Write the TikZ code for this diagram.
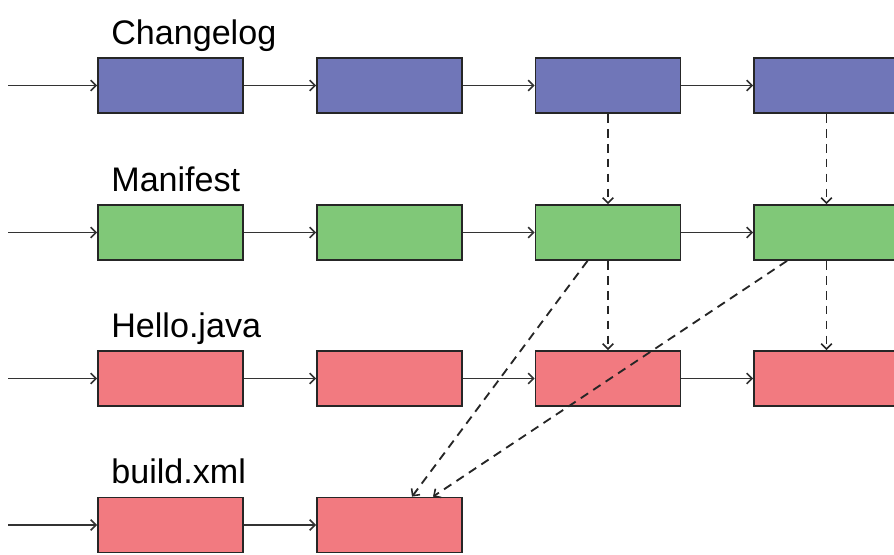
\documentclass[tikz,border=0pt]{standalone}
\usepackage{fontspec}
\setmainfont{Liberation Sans}
\usetikzlibrary{arrows.meta}
\definecolor{logblue}{RGB}{112,118,184}
\definecolor{mangreen}{RGB}{128,200,120}
\definecolor{filered}{RGB}{242,122,128}

\begin{document}
\begin{tikzpicture}[
    >={Straight Barb[length=3pt,width=6pt,line width=0.9pt]},
    rev/.style={draw=black!85,line width=1pt,minimum width=2.9cm,minimum height=1.1cm,inner sep=0pt},
    title/.style={anchor=base west,inner sep=0pt,font=\fontsize{19.4}{23}\selectfont},
    link/.style={->,line width=0.9pt,black!80},
    dep/.style={->,line width=1.05pt,black!85,dash pattern=on 5pt off 3.5pt}]
            \useasboundingbox (0,0) rectangle (17.88,11.08);
            % rows of revisions
            \node[title] (tlog) at (2.22,10.18) {Changelog};
            \node[title] (tman) at (2.22,7.24) {Manifest};
            \node[title] (thel) at (2.22,4.34) {Hello.java};
            \node[title] (tbld) at (2.22,1.42) {build.xml};
            \coordinate (in1) at (0.16,9.37);
            \coordinate (in2) at (0.16,6.43);
            \coordinate (in3) at (0.16,3.51);
            \coordinate (in4) at (0.16,0.58);
            \node[rev,fill=logblue] (c1) at (3.41,9.37) {};
            \node[rev,fill=logblue] (c2) at (7.79,9.37) {};
            \node[rev,fill=logblue] (c3) at (12.16,9.37) {};
            \node[rev,fill=logblue] (c4) at (16.53,9.37) {};
            \node[rev,fill=mangreen] (m1) at (3.41,6.43) {};
            \node[rev,fill=mangreen] (m2) at (7.79,6.43) {};
            \node[rev,fill=mangreen] (m3) at (12.16,6.43) {};
            \node[rev,fill=mangreen] (m4) at (16.53,6.43) {};
            \node[rev,fill=filered] (h1) at (3.41,3.51) {};
            \node[rev,fill=filered] (h2) at (7.79,3.51) {};
            \node[rev,fill=filered] (h3) at (12.16,3.51) {};
            \node[rev,fill=filered] (h4) at (16.53,3.51) {};
            \node[rev,fill=filered] (b1) at (3.41,0.58) {};
            \node[rev,fill=filered] (b2) at (7.79,0.58) {};
            % history
            \draw[link] (in1)--(c1);
            \draw[link] (c1)--(c2);
            \draw[link] (c2)--(c3);
            \draw[link] (c3)--(c4);
            \draw[link] (in2)--(m1);
            \draw[link] (m1)--(m2);
            \draw[link] (m2)--(m3);
            \draw[link] (m3)--(m4);
            \draw[link] (in3)--(h1);
            \draw[link] (h1)--(h2);
            \draw[link] (h2)--(h3);
            \draw[link] (h3)--(h4);
            \draw[link] (in4)--(b1);
            \draw[link] (b1)--(b2);
            % links between revlogs
            \draw[dep] (c3.south)--(m3.north);
            \draw[dep] (c4.south)--(m4.north);
            \draw[dep] (m3.south)--(h3.north);
            \draw[dep] (m4.south)--(h4.north);
            \draw[dep] ([xshift=-0.41cm]m3.south)--([xshift=0.45cm]b2.north);
            \draw[dep] ([xshift=-0.79cm]m4.south)--([xshift=0.87cm]b2.north);
        \end{tikzpicture}
\end{document}
